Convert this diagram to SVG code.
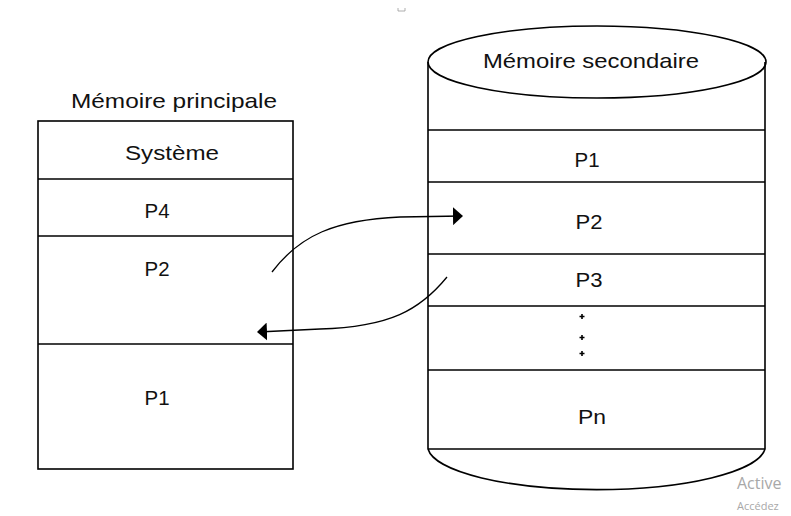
<svg xmlns="http://www.w3.org/2000/svg" width="791" height="516" viewBox="0 0 791 516">
<defs>
<style>
.ln{fill:none;stroke:#000;stroke-width:1.6}
.t{font-family:"Liberation Sans",Arial,sans-serif;font-size:21px;fill:#111;text-anchor:middle}
.cv{fill:none;stroke:#000;stroke-width:1.3}
.wm{font-family:"Open Sans","Liberation Sans",sans-serif;fill:#a8a8a8}
</style>
<marker id="ah" viewBox="0 0 10 18" refX="9" refY="9" markerWidth="10" markerHeight="18" markerUnits="userSpaceOnUse" orient="auto">
<path d="M0,0 L10,9 L0,18 Z" fill="#000"/>
</marker>
</defs>
<rect width="791" height="516" fill="#fff"/>
<path d="M398,8 v3 h7 v-3" fill="none" stroke="#999" stroke-width="0.8"/>
<g id="memoire-principale">
<text class="t" x="174" y="108" textLength="206" lengthAdjust="spacingAndGlyphs">Mémoire principale</text>
<rect class="ln" x="38" y="121" width="255" height="348"/>
<line class="ln" x1="38" y1="179" x2="293" y2="179"/>
<line class="ln" x1="38" y1="236" x2="293" y2="236"/>
<line class="ln" x1="38" y1="344" x2="293" y2="344"/>
<text class="t" x="172" y="160" textLength="94" lengthAdjust="spacingAndGlyphs">Système</text>
<text class="t" x="157" y="218" textLength="25" lengthAdjust="spacingAndGlyphs">P4</text>
<text class="t" x="157" y="276" textLength="25" lengthAdjust="spacingAndGlyphs">P2</text>
<text class="t" x="157" y="405" textLength="25" lengthAdjust="spacingAndGlyphs">P1</text>
</g>
<g id="memoire-secondaire">
<path class="ln" d="M428,62 V449 A169,44 0 0 0 765,449 V62"/>
<ellipse class="ln" cx="597" cy="62" rx="169" ry="36"/>
<line class="ln" x1="428" y1="130" x2="765" y2="130"/>
<line class="ln" x1="428" y1="182" x2="765" y2="182"/>
<line class="ln" x1="428" y1="254" x2="765" y2="254"/>
<line class="ln" x1="428" y1="306" x2="765" y2="306"/>
<line class="ln" x1="428" y1="370" x2="765" y2="370"/>
<line class="ln" x1="428" y1="449" x2="765" y2="449"/>
<text class="t" x="591" y="68" textLength="216" lengthAdjust="spacingAndGlyphs">Mémoire secondaire</text>
<text class="t" x="587" y="167" textLength="25" lengthAdjust="spacingAndGlyphs">P1</text>
<text class="t" x="589" y="229" textLength="27" lengthAdjust="spacingAndGlyphs">P2</text>
<text class="t" x="589" y="287" textLength="27" lengthAdjust="spacingAndGlyphs">P3</text>
<g stroke="#000" stroke-width="1.6">
<path d="M582,314 v5 M579.5,316.5 h5"/>
<path d="M582,335 v5 M579.5,337.5 h5"/>
<path d="M582,351 v5 M579.5,353.5 h5"/>
</g>
<text class="t" x="592" y="424" textLength="28" lengthAdjust="spacingAndGlyphs">Pn</text>
</g>
<g id="connecteurs">
<path class="cv" d="M272,272 C300,235 335,220 400,217 L462,216" marker-end="url(#ah)"/>
<path class="cv" d="M447,277 C420,310 390,327 320,329 L258,332" marker-end="url(#ah)"/>
</g>
<text class="wm" x="737" y="489" font-size="16">Active</text>
<text class="wm" x="737" y="510" font-size="11">Accédez</text>
</svg>
